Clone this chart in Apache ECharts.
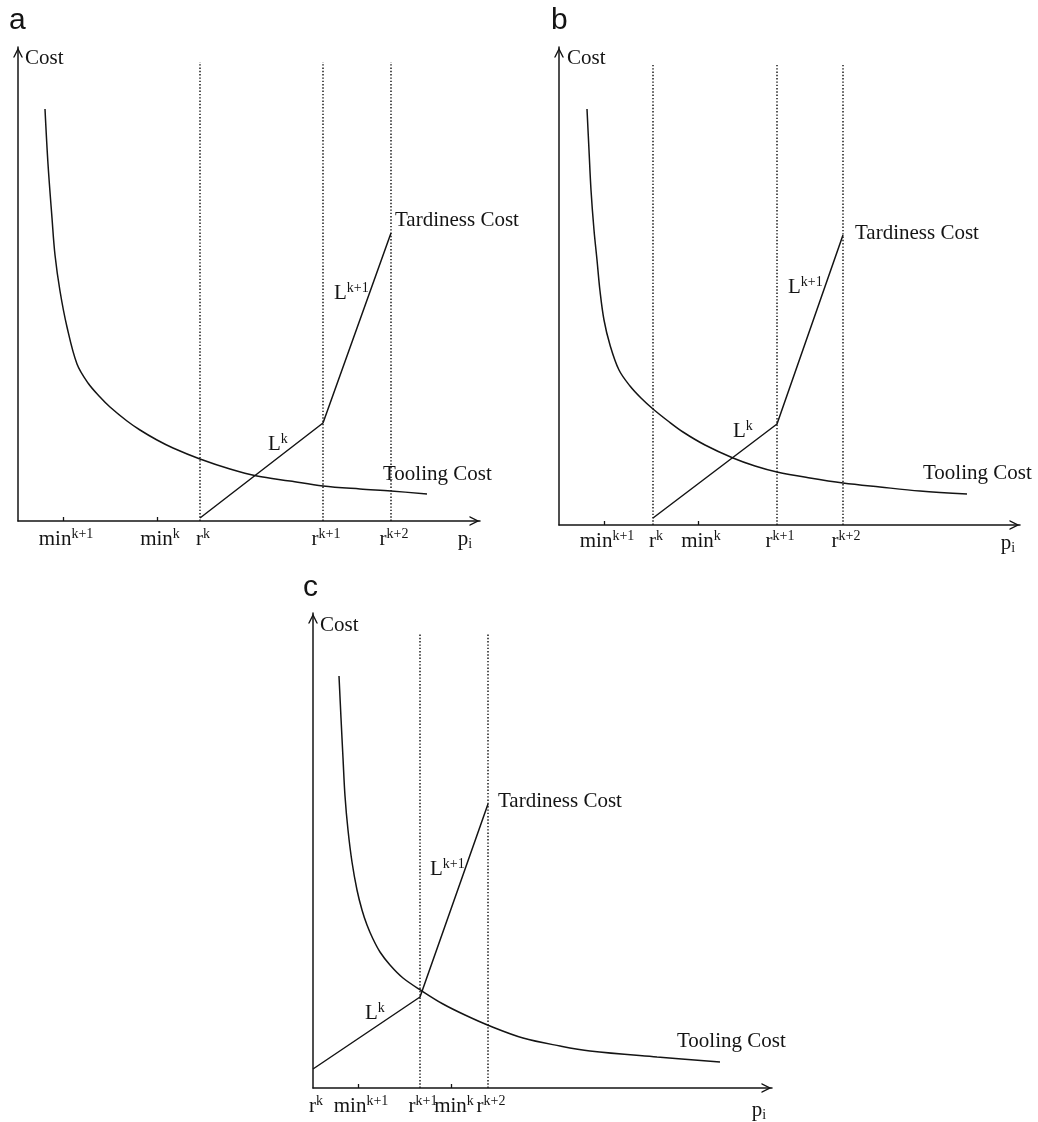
<!DOCTYPE html>
<html>
<head>
<meta charset="utf-8">
<script src="https://cdn.jsdelivr.net/npm/echarts@6/dist/echarts.min.js"></script>
<style>
  html, body { margin: 0; padding: 0; background: #fff; }
  #chart { width: 1038px; height: 1122px; }
</style>
</head>
<body>
<div id="chart"></div>
<script>
// Cost versus processing time p_i, three release-date cases (a, b, c).
// x: processing time, y: cost (arbitrary units).

// ---- case a ----
const toolingA = [[27,412],[30,357],[34,303],[37,266],[42,230],[49,194],[59,157],[70,138],[82,124],[92,114],[109,100],[122,91],[139,81],[155,73],[182,62],[212,52],[239,45],[272,40],[305,35],[342,32],[373,30],[409,27]];
const tardinessA = [[182,3],[305,98],[373,288]];
const releaseA = [182, 305, 373];
const minTicksA = [45, 139];
const tickValuesA = [45, 139, 182, 305, 373];
const tickTextA = [['min','k+1'], ['min','k'], ['r','k'], ['r','k+1'], ['r','k+2']];

// ---- case b ----
const toolingB = [[28,416],[30,375],[32,335],[35,295],[38,265],[41,234],[45,205],[51,180],[60,155],[71,139],[82,127],[94,116],[109,104],[124,93],[146,80],[174,67],[196,59],[218,53],[251,47],[284,42],[321,38],[361,34],[408,31]];
const tardinessB = [[94,7],[218,101],[284,290]];
const releaseB = [94, 218, 284];
const minTicksB = [45, 139];
const tickValuesB = [45, 94, 139, 218, 284];
const tickTextB = [['min','k+1'], ['r','k'], ['min','k'], ['r','k+1'], ['r','k+2']];

// ---- case c ----
const toolingC = [[26,412],[28,370],[30,330],[32,292],[35,258],[39,226],[44,198],[49,178],[54,163],[60,149],[67,136],[77,123],[90,110],[109,97],[130,84],[152,73],[177,62],[210,50],[247,42],[277,37],[344,31],[407,26]];
const tardinessC = [[0,19],[107,91],[175,284]];
const releaseC = [107, 175];
const minTicksC = [45, 138];
const tickValuesC = [0, 45, 107, 138, 175];
const tickTextC = [['r','k'], ['min','k+1'], ['r','k+1'], ['min','k'], ['r','k+2']];

const SERIF = '"Liberation Serif", "Times New Roman", serif';
const SANS = '"Liberation Sans", Arial, sans-serif';
const INK = '#141414';

// open chevron used as the axis arrow head
const ARROW = 'path://M0,10 L5,0 L10,10 L8.5,10 L5,3 L1.5,10 Z';

const rich = {
  b:   { fontFamily: SERIF, fontSize: 21, lineHeight: 24, color: INK },
  s:   { fontFamily: SERIF, fontSize: 14, lineHeight: 14, verticalAlign: 'top', color: INK },
  sub: { fontFamily: SERIF, fontSize: 14, lineHeight: 14, verticalAlign: 'bottom', color: INK }
};
const supText = (base, s) => s ? `{b|${base}}{s|${s}}` : `{b|${base}}`;

const panels = [
  { key: 'a', tooling: toolingA, tardiness: tardinessA, release: releaseA, minTicks: minTicksA,
    tickValues: tickValuesA, tickText: tickTextA,
    layout: { left: 18, top: 47, width: 462, height: 474, guideTop: 459, labelMargin: 6,
      pGap: -15, pPad: 6, costGap: -11, costPad: 7, titleLeft: 4, titleTop: 1,
      toolOff: [-44, -32], tardOff: [4, -25], lkOff: [68, -86], lk1Off: [11, -142] } },
  { key: 'b', tooling: toolingB, tardiness: tardinessB, release: releaseB, minTicks: minTicksB,
    tickValues: tickValuesB, tickText: tickTextB,
    layout: { left: 559, top: 47, width: 461, height: 478, guideTop: 462, labelMargin: 4,
      pGap: -12, pPad: 6, costGap: -11.5, costPad: 8, titleLeft: 546, titleTop: 1,
      toolOff: [-44, -33], tardOff: [12, -14], lkOff: [80, -99], lk1Off: [11, -149] } },
  { key: 'c', tooling: toolingC, tardiness: tardinessC, release: releaseC, minTicks: minTicksC,
    tickValues: tickValuesC, tickText: tickTextC,
    layout: { left: 313, top: 613, width: 459, height: 475, guideTop: 455, labelMargin: 6,
      pGap: -13, pPad: 10, costGap: -12, costPad: 7, titleLeft: 298, titleTop: 568,
      toolOff: [-43, -33], tardOff: [10, -15], lkOff: [52, -68], lk1Off: [10, -140] } }
];

const option = {
  animation: false,
  backgroundColor: '#fff',
  title: [], grid: [], xAxis: [], yAxis: [], series: []
};

const plainLabel = (text, pos) => ({
  show: true, formatter: text, position: pos,
  fontFamily: SERIF, fontSize: 21, lineHeight: 24, color: INK
});
const richLabel = (base, s, pos) => ({
  show: true, formatter: supText(base, s), position: pos, rich
});

panels.forEach((P, i) => {
  const L = P.layout;
  option.title.push({
    text: P.key, left: L.titleLeft, top: L.titleTop,
    textStyle: { fontFamily: SANS, fontSize: 30, fontWeight: 'normal', color: INK }
  });
  option.grid.push({ left: L.left, top: L.top, width: L.width, height: L.height });

  const axisLine = {
    show: true, symbol: ['none', ARROW], symbolSize: [10, 11], symbolOffset: [0, -5.5],
    lineStyle: { color: INK, width: 1.5 }
  };
  option.xAxis.push({
    type: 'value', gridIndex: i, min: 0, max: L.width,
    axisLine,
    splitLine: { show: false },
    axisTick: { show: true, inside: true, length: 4, customValues: P.minTicks,
      lineStyle: { color: INK, width: 1.3 } },
    axisLabel: {
      show: true, customValues: P.tickValues, margin: L.labelMargin, rich,
      padding: [0, 0, 0, 6],
      formatter: v => {
        const k = P.tickValues.indexOf(v);
        return k < 0 ? '' : supText(P.tickText[k][0], P.tickText[k][1]);
      }
    },
    name: '{b|p}{sub|i}', nameLocation: 'end', nameGap: L.pGap,
    nameTextStyle: { align: 'center', verticalAlign: 'top', padding: [L.pPad, 0, 0, 0], rich }
  });
  option.yAxis.push({
    type: 'value', gridIndex: i, min: 0, max: L.height,
    axisLine,
    splitLine: { show: false },
    axisTick: { show: false },
    axisLabel: { show: false },
    name: 'Cost', nameLocation: 'end', nameGap: L.costGap,
    nameTextStyle: { align: 'left', verticalAlign: 'middle', padding: [0, 0, 0, L.costPad],
      fontFamily: SERIF, fontSize: 21, color: INK }
  });

  // dotted guides at the release dates
  P.release.forEach(r => {
    option.series.push({
      type: 'line', xAxisIndex: i, yAxisIndex: i, silent: true,
      data: [[r, 0], [r, L.guideTop]], showSymbol: false,
      lineStyle: { color: '#1a1a1a', width: 1.5, type: [1.4, 1.9] }, z: 1
    });
  });

  // tooling cost curve
  const last = P.tooling.length - 1;
  option.series.push({
    type: 'line', xAxisIndex: i, yAxisIndex: i, silent: true,
    smooth: 0.35,
    symbol: 'circle', symbolSize: 0, showSymbol: true,
    lineStyle: { color: INK, width: 1.5 }, z: 3,
    data: P.tooling.map((p, k) => k === last
      ? { value: p, label: plainLabel('Tooling Cost', L.toolOff) }
      : { value: p, label: { show: false } })
  });

  // piecewise-linear tardiness cost
  option.series.push({
    type: 'line', xAxisIndex: i, yAxisIndex: i, silent: true,
    symbol: 'circle', symbolSize: 0, showSymbol: true,
    lineStyle: { color: INK, width: 1.5 }, z: 3,
    data: [
      { value: P.tardiness[0], label: richLabel('L', 'k', L.lkOff) },
      { value: P.tardiness[1], label: richLabel('L', 'k+1', L.lk1Off) },
      { value: P.tardiness[2], label: plainLabel('Tardiness Cost', L.tardOff) }
    ]
  });
});

const chart = echarts.init(document.getElementById('chart'), null, { renderer: 'canvas' });
chart.setOption(option);
</script>
</body>
</html>
